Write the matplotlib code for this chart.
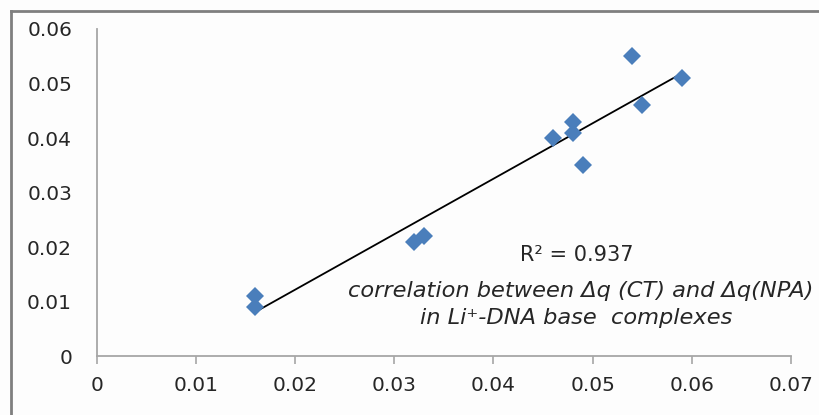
import numpy as np
import matplotlib
matplotlib.use("Agg")
import matplotlib.pyplot as plt
from matplotlib.lines import Line2D

# ── Data ──────────────────────────────────────────────────────────────────────
dq_ct  = [0.016, 0.016, 0.032, 0.033, 0.046, 0.048, 0.048, 0.049, 0.054, 0.055, 0.059]
dq_npa = [0.011, 0.009, 0.021, 0.022, 0.040, 0.043, 0.041, 0.035, 0.055, 0.046, 0.051]
x_ticks = [0, 0.01, 0.02, 0.03, 0.04, 0.05, 0.06, 0.07]
y_ticks = [0, 0.01, 0.02, 0.03, 0.04, 0.05, 0.06]
r2_label = "R\u00b2 = 0.937"

BLUE = "#4a7ebb"
GRAY = "#a6a6a6"
TXT  = "#262626"
BG   = "#fdfdfd"

plt.rcParams["font.family"] = "DejaVu Sans"

fig = plt.figure(figsize=(8.19, 4.15), dpi=100, facecolor=BG)
ax = fig.add_axes([96.6 / 819, 1 - 356 / 415, (791 - 96.6) / 819, (356 - 29) / 415])
ax.set_facecolor(BG)

# trend line (least squares fit)
x = np.array(dq_ct)
y = np.array(dq_npa)
k, b = np.polyfit(x, y, 1)
xs = np.array([x.min(), x.max()])
ax.plot(xs, k * xs + b, color="black", linewidth=1.3, zorder=2)

ax.plot(dq_ct, dq_npa, linestyle="none", marker="D", markersize=9.5,
        color=BLUE, markeredgewidth=0, zorder=3)

ax.set_xlim(0, 0.07)
ax.set_ylim(0, 0.06)
ax.set_xticks(x_ticks)
ax.set_yticks(y_ticks)
ax.set_xticklabels([f"{v:g}" for v in x_ticks])
ax.set_yticklabels([f"{v:g}" for v in y_ticks])

for side in ("top", "right"):
    ax.spines[side].set_visible(False)
for side in ("left", "bottom"):
    ax.spines[side].set_color(GRAY)
    ax.spines[side].set_linewidth(1.3)

ax.tick_params(axis="x", direction="out", length=6, width=1.2, color=GRAY,
               labelsize=14.5, labelcolor=TXT, pad=8.5)
ax.tick_params(axis="y", length=0, labelsize=14.5, labelcolor=TXT, pad=17.7)

# annotation text
ax.text(0.0484, 0.0185, r2_label, ha="center", va="center", fontsize=15, color=TXT)
ax.text(0.0488, 0.0119, "correlation between \u0394q (CT) and \u0394q(NPA)",
        ha="center", va="center", fontsize=16.2, style="italic", color=TXT)
ax.text(0.0483, 0.0070, "in Li\u207a-DNA base  complexes",
        ha="center", va="center", fontsize=16.2, style="italic", color=TXT)

# outer chart frame (partly cropped in the reference)
fig.add_artist(Line2D([10.5 / 819, 10.5 / 819], [0, 1 - 11 / 415],
                      transform=fig.transFigure, color="#7f7f7f", linewidth=2))
fig.add_artist(Line2D([10.5 / 819, 1], [1 - 11 / 415, 1 - 11 / 415],
                      transform=fig.transFigure, color="#7f7f7f", linewidth=2))

fig.savefig("out.png", dpi=100, facecolor=BG)
